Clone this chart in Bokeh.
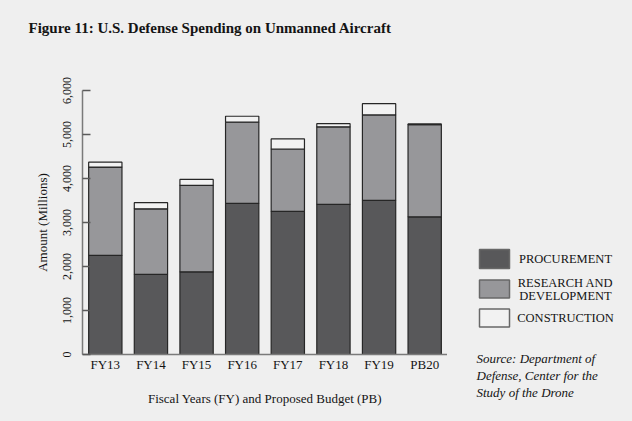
from bokeh.plotting import figure
from bokeh.layouts import column, row
from bokeh.models import FactorRange, Range1d, NumeralTickFormatter, FixedTicker
from bokeh.core.properties import value
from bokeh.embed import file_html
from bokeh.resources import INLINE

# Spending by fiscal year, millions of dollars
years = ["FY13", "FY14", "FY15", "FY16", "FY17", "FY18", "FY19", "PB20"]
procurement = [2255, 1820, 1880, 3435, 3255, 3410, 3505, 3130]
research = [2005, 1490, 1965, 1845, 1415, 1765, 1940, 2095]
construction = [110, 140, 135, 135, 230, 70, 255, 15]
y_ticks = [0, 1000, 2000, 3000, 4000, 5000, 6000]

series = ["procurement", "research", "construction"]
series_names = ["PROCUREMENT", "RESEARCH AND\nDEVELOPMENT", "CONSTRUCTION"]
colors = ["#58585a", "#97979a", "#f2f2f2"]

title_text = "Figure 11: U.S. Defense Spending on Unmanned Aircraft"
source_lines = ["Source: Department of", "Defense, Center for the", "Study of the Drone"]

BG = "#efefef"
SERIF = "Liberation Serif"
INK = "#141414"

W, H = 632, 421
HEADER_H = 45
CHART_W = 447
FRAME_LEFT, FRAME_W, FRAME_H = 82, 365, 264
FRAME_TOP = 90 - HEADER_H


def blank(width, height, x0, x1, y_top, y_bottom):
    # bare panel whose data coordinates are page pixels (y grows downward)
    f = figure(width=width, height=height, x_range=Range1d(x0, x1),
               y_range=Range1d(y_bottom, y_top), x_axis_type=None, y_axis_type=None,
               min_border=0, output_backend="svg", toolbar_location=None)
    f.background_fill_color = BG
    f.border_fill_color = BG
    f.outline_line_color = None
    f.grid.visible = False
    f.frame_align = False
    return f


# header with the figure title
header = blank(W, HEADER_H, 0, W, 0, HEADER_H)
header.text(x=[28], y=[27], text=[title_text], text_font=value(SERIF),
            text_font_size="15px", text_font_style="bold", text_color=INK,
            text_baseline="middle")

# stacked bar chart
p = figure(x_range=FactorRange(*years, range_padding=0), y_range=Range1d(0, 6000),
           width=CHART_W, height=H - HEADER_H, frame_width=FRAME_W, frame_height=FRAME_H,
           min_border_left=FRAME_LEFT, min_border_right=0,
           min_border_top=FRAME_TOP, min_border_bottom=H - HEADER_H - FRAME_TOP - FRAME_H,
           output_backend="svg", toolbar_location=None)
p.frame_align = False
p.background_fill_color = BG
p.border_fill_color = BG
p.outline_line_color = None
p.xgrid.grid_line_color = None
p.ygrid.grid_line_color = None

data = dict(years=years, procurement=procurement, research=research,
            construction=construction)
p.vbar_stack(series, x="years", width=0.73, source=data, fill_color=colors,
             line_color="#262626", line_width=1.2)

for ax in (p.xaxis[0], p.yaxis[0]):
    ax.axis_line_color = "#7a7a7a"
    ax.axis_line_width = 1.5
    ax.major_label_text_font = SERIF
    ax.major_label_text_color = INK
    ax.axis_label_text_font = SERIF
    ax.axis_label_text_font_style = "normal"
    ax.axis_label_text_color = INK
    ax.minor_tick_line_color = None
    ax.minor_tick_out = 0

xa = p.xaxis[0]
xa.major_tick_line_color = None
xa.major_tick_out = 0
xa.major_tick_in = 0
xa.major_label_text_font_size = "13px"
xa.major_label_standoff = 2
xa.axis_label = "Fiscal Years (FY) and Proposed Budget (PB)"
xa.axis_label_text_font_size = "13px"
xa.axis_label_standoff = 16

ya = p.yaxis[0]
ya.ticker = FixedTicker(ticks=y_ticks)
ya.formatter = NumeralTickFormatter(format="0,0")
ya.major_tick_in = 8
ya.major_tick_out = 0
ya.major_tick_line_color = "#5a5a5a"
ya.major_tick_line_width = 1.5
ya.major_label_orientation = "vertical"
ya.major_label_text_font_size = "12px"
ya.major_label_standoff = 12
ya.axis_label = "Amount (Millions)"
ya.axis_label_text_font_size = "13px"
ya.axis_label_standoff = 10

# side panel: legend and source note
side = blank(W - CHART_W, H - HEADER_H, CHART_W, W, HEADER_H, H)
box_top = [249, 279.5, 308.5]
box_bottom = [268, 297.5, 326.5]
side.quad(left=479, right=509, top=box_top, bottom=box_bottom, fill_color=colors,
          line_color="#686868", line_width=1.5)

first, second = series_names[1].split("\n")
legend_text = [series_names[0], first, second, series_names[2]]
legend_y = [258, 282, 295, 317]
side.text(x=[565] * 4, y=legend_y, text=legend_text, text_font=value(SERIF),
          text_font_size="12.5px", text_color=INK, text_align="center",
          text_baseline="middle")

side.text(x=[476] * 3, y=[358, 375, 392], text=source_lines, text_font=value(SERIF),
          text_font_size="13px", text_font_style="italic", text_color=INK,
          text_baseline="middle")

body = row(p, side, spacing=0, styles={"background-color": BG})
layout = column(header, body, spacing=0, styles={"background-color": BG})
open("out.html", "w").write(file_html(layout, INLINE))
